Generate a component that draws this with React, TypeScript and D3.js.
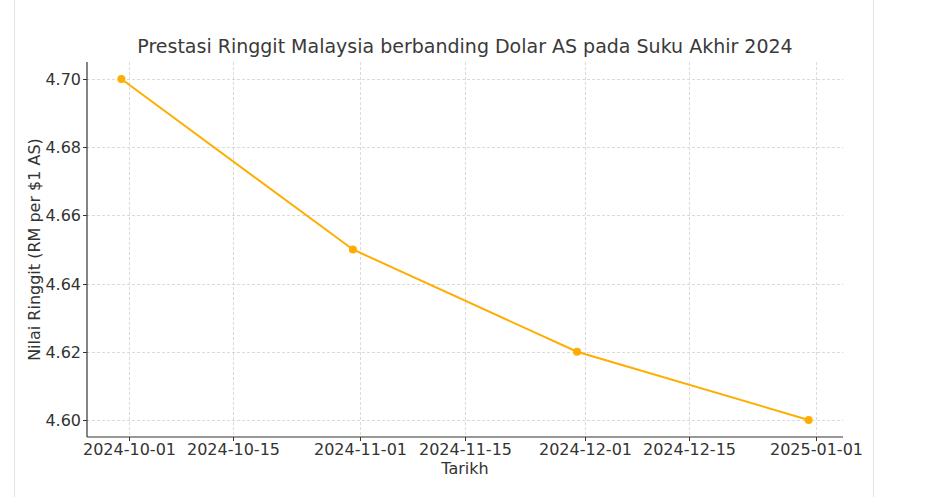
import React, { useEffect, useRef } from "react";
import * as d3 from "d3";

const dates = ["2024-09-30", "2024-10-31", "2024-11-30", "2024-12-31"];
const values = [4.7, 4.65, 4.62, 4.6];
const xTicks = ["2024-10-01", "2024-10-15", "2024-11-01", "2024-11-15", "2024-12-01", "2024-12-15", "2025-01-01"];
const yTicks = [4.6, 4.62, 4.64, 4.66, 4.68, 4.7];

const W = 946, H = 497;
const M = { left: 87, right: 843, top: 62, bottom: 437 };
const FONT = "'DejaVu Sans', sans-serif";

export default function App() {
  const ref = useRef<SVGSVGElement>(null);
  useEffect(() => {
    const svg = d3.select(ref.current);
    svg.selectAll("*").remove();
    const parse = d3.utcParse("%Y-%m-%d");
    const pts = dates.map((d, i) => ({ d: parse(d)!, v: values[i] }));
    const d0 = pts[0].d.getTime(), d1 = pts[pts.length - 1].d.getTime();
    const pad = (d1 - d0) * 0.05;
    const x = d3.scaleUtc().domain([new Date(d0 - pad), new Date(d1 + pad)]).range([M.left, M.right]);
    const ypad = (4.7 - 4.6) * 0.05;
    const y = d3.scaleLinear().domain([4.6 - ypad, 4.7 + ypad]).range([M.bottom, M.top]);

    svg.append("rect").attr("width", W).attr("height", H).attr("fill", "#fff");
    svg.append("line").attr("x1", 14.5).attr("x2", 14.5).attr("y1", 0).attr("y2", H).attr("stroke", "#e3e3e3");
    svg.append("line").attr("x1", 873.5).attr("x2", 873.5).attr("y1", 0).attr("y2", H).attr("stroke", "#e3e3e3");

    const grid = svg.append("g");
    xTicks.forEach(t => {
      const xx = Math.round(x(parse(t)!)) + 0.5;
      grid.append("line").attr("x1", xx).attr("x2", xx).attr("y1", M.top).attr("y2", M.bottom)
        .attr("stroke", "#d0d0d0").attr("stroke-dasharray", "3,2").attr("stroke-width", 0.8);
    });
    yTicks.forEach(t => {
      const yy = Math.round(y(t)) + 0.5;
      grid.append("line").attr("x1", M.left).attr("x2", M.right).attr("y1", yy).attr("y2", yy)
        .attr("stroke", "#d0d0d0").attr("stroke-dasharray", "3,2").attr("stroke-width", 0.8);
    });

    // spines
    svg.append("line").attr("x1", M.left).attr("x2", M.left).attr("y1", M.top).attr("y2", M.bottom)
      .attr("stroke", "#333").attr("stroke-width", 1.2);
    svg.append("line").attr("x1", M.left).attr("x2", M.right).attr("y1", M.bottom).attr("y2", M.bottom)
      .attr("stroke", "#333").attr("stroke-width", 1.2);

    // ticks
    xTicks.forEach(t => {
      const xx = Math.round(x(parse(t)!)) + 0.5;
      svg.append("line").attr("x1", xx).attr("x2", xx).attr("y1", M.bottom).attr("y2", M.bottom + 4).attr("stroke", "#333");
      svg.append("text").attr("x", xx).attr("y", 455).attr("text-anchor", "middle")
        .attr("font-family", FONT).attr("font-size", 16).attr("fill", "#333").text(t);
    });
    yTicks.forEach(t => {
      const yy = Math.round(y(t)) + 0.5;
      svg.append("line").attr("x1", M.left - 4).attr("x2", M.left).attr("y1", yy).attr("y2", yy).attr("stroke", "#333");
      svg.append("text").attr("x", M.left - 6).attr("y", yy).attr("dy", "0.36em").attr("text-anchor", "end")
        .attr("font-family", FONT).attr("font-size", 16).attr("fill", "#333").text(t.toFixed(2));
    });

    const line = d3.line<{ d: Date; v: number }>().x(p => x(p.d)).y(p => y(p.v));
    svg.append("path").datum(pts).attr("d", line).attr("fill", "none").attr("stroke", "#FFAD00").attr("stroke-width", 2);
    svg.selectAll("circle.pt").data(pts).enter().append("circle")
      .attr("cx", p => x(p.d)).attr("cy", p => y(p.v)).attr("r", 4).attr("fill", "#FFAD00");

    svg.append("text").attr("x", (M.left + M.right) / 2).attr("y", 53).attr("text-anchor", "middle")
      .attr("font-family", FONT).attr("font-size", 19).attr("fill", "#3a3a3a")
      .text("Prestasi Ringgit Malaysia berbanding Dolar AS pada Suku Akhir 2024");
    svg.append("text").attr("x", (M.left + M.right) / 2).attr("y", 474).attr("text-anchor", "middle")
      .attr("font-family", FONT).attr("font-size", 16).attr("fill", "#333").text("Tarikh");
    svg.append("text").attr("transform", `translate(40,${(M.top + M.bottom) / 2}) rotate(-90)`).attr("text-anchor", "middle")
      .attr("font-family", FONT).attr("font-size", 16).attr("fill", "#333").text("Nilai Ringgit (RM per $1 AS)");
  }, []);
  return (
    <svg ref={ref} width={W} height={H} style={{ position: "absolute", left: 0, top: 0 }} />
  );
}
